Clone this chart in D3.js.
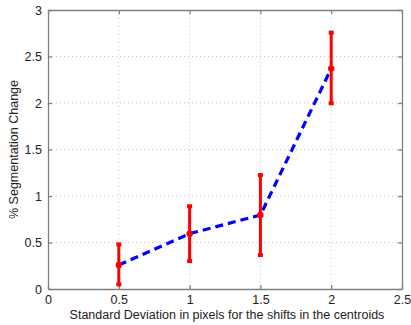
<!DOCTYPE html>
<html><head><meta charset="utf-8">
<script src="https://cdn.jsdelivr.net/npm/d3@7"></script>
<style>body{margin:0;background:#fff}svg{display:block}text{font-family:"Liberation Sans",Arial,sans-serif}</style>
</head><body>
<svg id="c" width="411" height="325"></svg>
<script>
const xVals = [0.5, 1.0, 1.5, 2.0];
const yVals = [0.258, 0.595, 0.795, 2.37];
const errLow = [0.05, 0.30, 0.365, 1.997];
const errHigh = [0.48, 0.89, 1.225, 2.756];
const xTicks = [0, 0.5, 1, 1.5, 2, 2.5];
const yTicks = [0, 0.5, 1, 1.5, 2, 2.5, 3];
const xLabel = "Standard Deviation in pixels for the shifts in the centroids";
const yLabel = "% Segmentation Change";

const svg = d3.select("#c");
const L = 48, R = 402, T = 10, B = 289;
const x = d3.scaleLinear().domain([0, 2.5]).range([L, R]);
const y = d3.scaleLinear().domain([0, 3]).range([B, T]);

// grid
const g = svg.append("g");
g.selectAll(".gx").data(xTicks.slice(1, -1)).enter().append("line")
  .attr("x1", d => x(d)).attr("x2", d => x(d)).attr("y1", T).attr("y2", B)
  .attr("stroke", "#c8c8c8").attr("stroke-width", 1).attr("stroke-dasharray", "1,3");
g.selectAll(".gy").data(yTicks.slice(1, -1)).enter().append("line")
  .attr("y1", d => y(d)).attr("y2", d => y(d)).attr("x1", L).attr("x2", R)
  .attr("stroke", "#c8c8c8").attr("stroke-width", 1).attr("stroke-dasharray", "1,3");

// axes
const fmt = d => d3.format("~g")(d);
const ax = svg.append("g").attr("transform", `translate(0,${B})`)
  .call(d3.axisBottom(x).tickValues(xTicks).tickFormat(fmt).tickSizeInner(-4).tickSizeOuter(0).tickPadding(6));
const axT = svg.append("g").attr("transform", `translate(0,${T})`)
  .call(d3.axisTop(x).tickValues(xTicks).tickFormat("").tickSizeInner(-4).tickSizeOuter(0));
const ay = svg.append("g").attr("transform", `translate(${L},0)`)
  .call(d3.axisLeft(y).tickValues(yTicks).tickFormat(fmt).tickSizeInner(-4).tickSizeOuter(0).tickPadding(6));
const ayR = svg.append("g").attr("transform", `translate(${R},0)`)
  .call(d3.axisRight(y).tickValues(yTicks).tickFormat("").tickSizeInner(-4).tickSizeOuter(0));
[ax, axT, ay, ayR].forEach(a => {
  a.selectAll("path,line").attr("stroke", "#808080").attr("stroke-width", 1.3);
  a.selectAll("text").attr("fill", "#222").style("font-size", "12.5px");
});

// line
const pts = xVals.map((v, i) => [v, yVals[i]]);
svg.append("path").datum(pts)
  .attr("d", d3.line().x(d => x(d[0])).y(d => y(d[1])))
  .attr("fill", "none").attr("stroke", "#0000ff").attr("stroke-width", 3.2)
  .attr("stroke-dasharray", "8,5");

// error bars
const eb = svg.append("g");
xVals.forEach((v, i) => {
  const cx = x(v);
  eb.append("line").attr("x1", cx).attr("x2", cx).attr("y1", y(errLow[i])).attr("y2", y(errHigh[i]))
    .attr("stroke", "#ff0000").attr("stroke-width", 3);
  [errLow[i], errHigh[i]].forEach(e => {
    eb.append("rect").attr("x", cx - 2.5).attr("y", y(e) - 2).attr("width", 5).attr("height", 4).attr("fill", "#ff0000");
  });
  eb.append("circle").attr("cx", cx).attr("cy", y(yVals[i])).attr("r", 3.2).attr("fill", "#ff0000");
});

// labels
svg.append("text").attr("x", (L + R) / 2 + 2).attr("y", 319).attr("text-anchor", "middle")
  .style("font-size", "12.5px").attr("fill", "#222").text(xLabel);
svg.append("text").attr("transform", `translate(18,${(T + B) / 2}) rotate(-90)`).attr("text-anchor", "middle")
  .style("font-size", "12.5px").attr("fill", "#222").text(yLabel);
</script>
</body></html>
